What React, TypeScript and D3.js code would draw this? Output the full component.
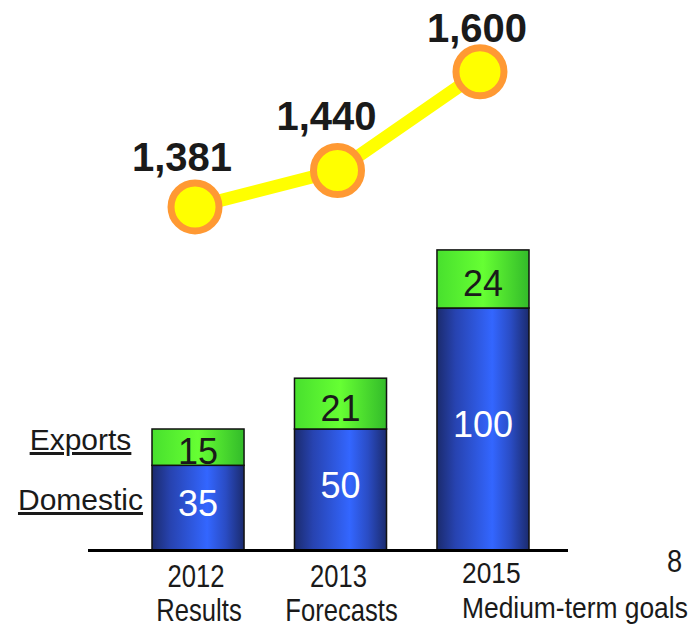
import React from "react";
import * as d3 from "d3";

const categories = ["2012", "2013", "2015"];
const subLabels = ["Results", "Forecasts", "Medium-term goals"];
const domestic = [35, 50, 100];
const exportsVals = [15, 21, 24];
const lineValues = [1381, 1440, 1600];
const lineLabels = ["1,381", "1,440", "1,600"];
const legendLabels = ["Exports", "Domestic"];
const pageNumber = "8";

const W = 691;
const H = 628;
const FONT = "'Liberation Sans', Arial, sans-serif";
const labelOffsets: [number, number][] = [[-13, -36], [-11, -41], [-3, -30]];

export default function App() {
  const x = d3.scaleBand<string>().domain(categories).range([152, 529]).paddingInner(0.354).paddingOuter(0);
  const y = d3.scaleLinear().domain([0, 130]).range([550, 550 - 130 * 2.42]);
  const yl = d3.scaleLinear().domain([1300, 1700]).range([256.9, 10.1]);
  const bw = x.bandwidth();
  const cx = (c: string) => (x(c) as number) + bw / 2;

  const linePts: [number, number][] = categories.map((c, i) => [cx(c) - 3, yl(lineValues[i])]);
  const lineGen = d3.line();

  return (
    <svg width={W} height={H} style={{ position: "absolute", left: 0, top: 0, background: "#fff" }} fontFamily={FONT}>
      <defs>
        <linearGradient id="blueG" x1="0" x2="1" y1="0" y2="0">
          <stop offset="0%" stopColor="#1b2b6e" />
          <stop offset="20%" stopColor="#2743b0" />
          <stop offset="60%" stopColor="#3366ff" />
          <stop offset="80%" stopColor="#2a4cc4" />
          <stop offset="100%" stopColor="#1b2b6e" />
        </linearGradient>
        <linearGradient id="greenG" x1="0" x2="1" y1="0" y2="0">
          <stop offset="0%" stopColor="#48e02e" />
          <stop offset="50%" stopColor="#66ff33" />
          <stop offset="100%" stopColor="#33bb2a" />
        </linearGradient>
      </defs>

      {categories.map((c, i) => {
        const x0 = x(c) as number;
        const yD = y(domestic[i]);
        const yE = y(domestic[i] + exportsVals[i]);
        const y0 = y(0);
        return (
          <g key={c}>
            <rect x={x0} y={yD} width={bw} height={y0 - yD} fill="url(#blueG)" stroke="#111" strokeWidth={1.5} />
            <rect x={x0} y={yE} width={bw} height={yD - yE} fill="url(#greenG)" stroke="#111" strokeWidth={1.5} />
            <text x={cx(c)} y={(yD + yE) / 2 + 17} textAnchor="middle" fontSize={36} fill="#1a1a1a">
              {exportsVals[i]}
            </text>
            <text x={cx(c)} y={(yD + y0) / 2 + 8} textAnchor="middle" fontSize={36} fill="#ffffff">
              {domestic[i]}
            </text>
          </g>
        );
      })}

      <line x1={88} x2={568} y1={y(0) + 0.5} y2={y(0) + 0.5} stroke="#000" strokeWidth={3} />

      {categories.map((c, i) => {
        const last = i === categories.length - 1;
        const ax = last ? cx(c) - 21 : cx(c) - 2;
        const anchor = last ? "start" : "middle";
        const fs = last ? 30 : 32;
        const sx = last ? 0.88 : 0.8;
        const b1 = last ? 583 : 587;
        const b2 = last ? 618 : 621;
        return (
          <g key={"t" + c} fill="#1a1a1a" fontSize={fs} textAnchor={anchor}>
            <text transform={`translate(${ax},${b1}) scale(${sx},1)`}>{c}</text>
            <text transform={`translate(${ax + (last ? 0 : 3)},${b2}) scale(${sx},1)`}>{subLabels[i]}</text>
          </g>
        );
      })}

      <text x={80.5} y={450} textAnchor="middle" fontSize={30} fill="#1a1a1a" style={{ textDecoration: "underline" }}>
        {legendLabels[0]}
      </text>
      <text x={80.5} y={510} textAnchor="middle" fontSize={30} fill="#1a1a1a" style={{ textDecoration: "underline" }}>
        {legendLabels[1]}
      </text>

      <path d={lineGen(linePts) || ""} fill="none" stroke="#ffff00" strokeWidth={13} strokeLinejoin="round" />
      {linePts.map((p, i) => (
        <g key={"p" + i}>
          <circle cx={p[0]} cy={p[1]} r={24} fill="#ffff00" stroke="#ff9933" strokeWidth={7} />
          <text x={p[0] + labelOffsets[i][0]} y={p[1] + labelOffsets[i][1]} textAnchor="middle" fontSize={40} fontWeight="bold" fill="#1a1a1a">
            {lineLabels[i]}
          </text>
        </g>
      ))}

      <text fontSize={32} fill="#1a1a1a" transform="translate(667,572) scale(0.85,1)">
        {pageNumber}
      </text>
    </svg>
  );
}
